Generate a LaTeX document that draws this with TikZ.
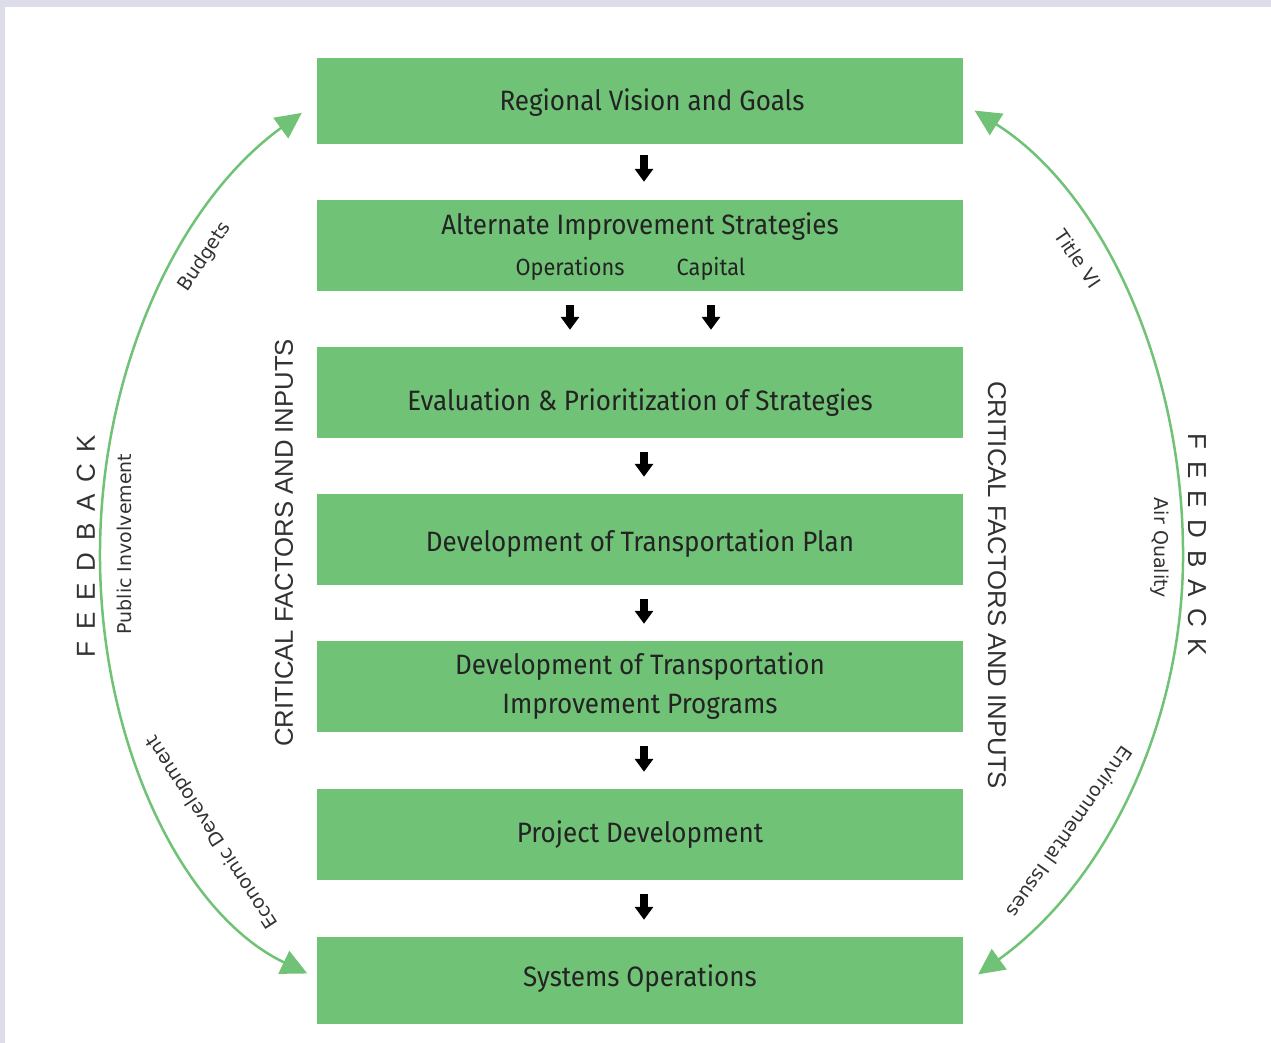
\documentclass[tikz,border=0pt]{standalone}
\usepackage{fontspec}
\setmainfont{Liberation Sans}
\newfontfamily\boxfont[FakeStretch=0.93]{Fira Sans}
\newfontfamily\labfont{DejaVu Sans}
\newfontfamily\fbfont[LetterSpace=45]{Liberation Sans}
\usetikzlibrary{arrows.meta}
\definecolor{boxgreen}{RGB}{112,194,118}
\definecolor{lav}{RGB}{221,221,234}
\definecolor{textdark}{RGB}{35,35,35}
\definecolor{labgray}{RGB}{50,50,50}
\begin{document}
\begin{tikzpicture}[x=1pt,y=1pt,
  box/.style={fill=boxgreen, draw=none, minimum width=646pt, inner sep=0pt},
  btext/.style={inner sep=0pt, align=center, text=textdark, font=\boxfont\fontsize{28}{39}\selectfont},
  bsub/.style={inner sep=0pt, text=textdark, font=\boxfont\fontsize{23.4}{26}\selectfont},
  blk/.style={draw=black, line width=8pt, -{Triangle[length=13pt,width=18pt]}},
  fb/.style={draw=boxgreen, line width=2.5pt, {Triangle[length=26pt,width=25pt]}-{Triangle[length=26pt,width=25pt]}},
  crit/.style={inner sep=0pt, text=labgray, font=\fontsize{25.7}{26}\selectfont},
  lab/.style={inner sep=0pt, text=labgray, font=\labfont\fontsize{19}{19}\selectfont},
  fbtext/.style={inner sep=0pt, text=labgray, font=\fbfont\fontsize{26}{26}\selectfont}]
\useasboundingbox (0,0) rectangle (1271,1043);
\fill[lav] (0,0) rectangle (1271,1043);
\fill[white] (5,0) rectangle (1271,1036);
% boxes
\node[box, minimum height=86pt] (b1) at (640,942) {};
\node[box, minimum height=91pt] (b2) at (640,797.5) {};
\node[box, minimum height=91pt] (b3) at (640,650.5) {};
\node[box, minimum height=91pt] (b4) at (640,503.5) {};
\node[box, minimum height=91pt] (b5) at (640,356.5) {};
\node[box, minimum height=91pt] (b6) at (640,208.5) {};
\node[box, minimum height=87pt] (b7) at (640,62.5) {};
% box texts
\node[btext] (t1) at (652,940) {Regional Vision and Goals};
\node[btext] (t2) at (640,816) {Alternate Improvement Strategies};
\node[bsub] (ops) at (570,774) {Operations};
\node[bsub] (cap) at (711,774) {Capital};
\node[btext] (t3) at (640,640) {Evaluation \& Prioritization of Strategies};
\node[btext] (t4) at (640,499) {Development of Transportation Plan};
\node[btext] (t5) at (640,357) {Development of Transportation\\Improvement Programs};
\node[btext] (t6) at (640,208) {Project Development};
\node[btext] (t7) at (640,64) {Systems Operations};
% black arrows
\draw[blk, shorten <=11pt, shorten >=18pt] ([xshift=4pt]b1.south) -- ([xshift=4pt]b2.north);
\draw[blk, shorten <=14pt, shorten >=17pt] (ops |- b2.south) -- (ops |- b3.north);
\draw[blk, shorten <=14pt, shorten >=17pt] (cap |- b2.south) -- (cap |- b3.north);
\draw[blk, shorten <=14pt, shorten >=17pt] ([xshift=4pt]b3.south) -- ([xshift=4pt]b4.north);
\draw[blk, shorten <=14pt, shorten >=17pt] ([xshift=4pt]b4.south) -- ([xshift=4pt]b5.north);
\draw[blk, shorten <=14pt, shorten >=17pt] ([xshift=4pt]b5.south) -- ([xshift=4pt]b6.north);
\draw[blk, shorten <=14pt, shorten >=17pt] ([xshift=4pt]b6.south) -- ([xshift=4pt]b7.north);
% feedback arcs
\coordinate (Ltop) at (301.8,930.1);
\coordinate (Rtop) at (974.6,932.4);
\draw[fb] (Ltop) arc[start angle=119.7, end angle=180, x radius=400, y radius=509]
                 arc[start angle=180, end angle=252, x radius=300, y radius=440];
\draw[fb] (Rtop) arc[start angle=65.1, end angle=0, x radius=360, y radius=490]
                 arc[start angle=0, end angle=-57, x radius=450, y radius=500];
% labels
\node[lab, rotate=56] (bud) at (205,786) {Budgets};
\node[lab, rotate=-56] (tvi) at (1078,784) {Title VI};
\node[lab, rotate=123] (eco) at (213,211) {Economic Development};
\node[lab, rotate=-125] (env) at (1070,211) {Environmental Issues};
\node[lab, rotate=90] (pub) at (124,499) {Public Involvement};
\node[lab, rotate=-90] (air) at (1160,495) {Air Quality};
\node[fbtext, rotate=90] (fbl) at (86,497) {FEEDBACK};
\node[fbtext, rotate=-90] (fbr) at (1197,498) {FEEDBACK};
\node[crit, rotate=90] (cl) at (284,500) {CRITICAL FACTORS AND INPUTS};
\node[crit, rotate=-90] (cr) at (997,458) {CRITICAL FACTORS AND INPUTS};
\end{tikzpicture}
\end{document}
